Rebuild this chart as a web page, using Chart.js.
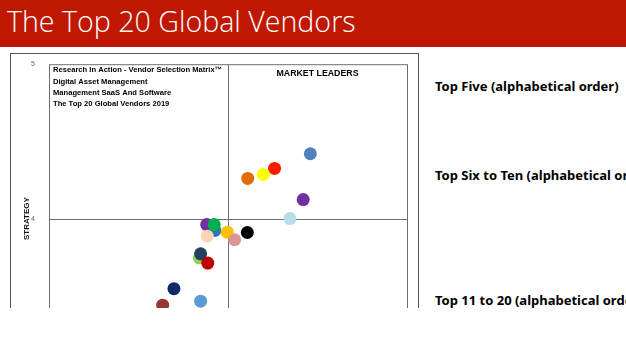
<!DOCTYPE html>
<html>
<head>
<meta charset="utf-8">
<script src="https://cdn.jsdelivr.net/npm/chart.js@4.4.1/dist/chart.umd.min.js"></script>
<style>
  html, body { margin: 0; padding: 0; background: #fff; }
  body { width: 626px; height: 351px; overflow: hidden; position: relative; font-family: "Open Sans", "Noto Sans", sans-serif; }
  #banner { position: absolute; left: 0; top: 0; width: 626px; height: 47px; background: #c01800; }
  #title { position: absolute; left: 7px; top: 2px; color: #fff; font-size: 28.6px; font-weight: 300; line-height: 38px; white-space: nowrap; }
  #box { position: absolute; left: 10px; top: 53px; width: 407px; height: 254px; border: 1px solid #555; border-bottom: none; overflow: hidden; }
  .side { position: absolute; left: 435px; font-family: "Noto Sans", sans-serif; font-weight: 700; font-size: 13px; color: #000; white-space: nowrap; line-height: 16px; }
</style>
</head>
<body>
<div id="banner"><div id="title">The Top 20 Global Vendors</div></div>
<div id="box"><canvas id="matrix" width="407" height="340"></canvas></div>
<div class="side" style="top:78px">Top Five (alphabetical order)</div>
<div class="side" style="top:167px">Top Six to Ten (alphabetical order)</div>
<div class="side" style="top:292px">Top 11 to 20 (alphabetical order)</div>
<script>
// execution (x) / strategy (y) scores
const vendorX = [4.46, 4.26, 4.197, 4.11, 4.42, 4.346, 4.108, 3.881, 3.927, 3.923, 3.884, 3.996, 4.037, 3.84, 3.847, 3.887, 3.698, 3.847, 3.635];
const vendorY = [4.42, 4.325, 4.286, 4.26, 4.123, 4.0, 3.91, 3.961, 3.923, 3.961, 3.886, 3.912, 3.863, 3.746, 3.772, 3.712, 3.546, 3.465, 3.439];
const vendorColors = ['#4f81bd', '#ff1a00', '#ffff00', '#e36c09', '#7030a0', '#b7dee8', '#000000', '#7030a0', '#2e75b6', '#00b050',
                      '#fbd4b4', '#ffc000', '#da9694', '#92d050', '#243f60', '#c00000', '#0f2a6b', '#5b9bd5', '#953735'];
const yTicks = [3, 4, 5];
const boxLines = [
    'Research In Action - Vendor Selection Matrix\u2122',
    'Digital Asset Management',
    'Management SaaS And Software',
    'The Top 20 Global Vendors 2019'
];
const leadersLabel = 'MARKET LEADERS';

// frame + quadrant cross + captions
const matrixDecor = {
    id: 'matrixDecor',
    beforeDatasetsDraw(chart) {
        const { ctx, chartArea: a, scales } = chart;
        const cx = scales.x.getPixelForValue(4);
        const cy = scales.y.getPixelForValue(4);
        ctx.save();
        ctx.strokeStyle = '#6e6e6e';
        ctx.lineWidth = 1;
        ctx.strokeRect(a.left + 0.5, a.top + 0.5, a.right - a.left, a.bottom - a.top);
        ctx.beginPath();
        ctx.moveTo(Math.round(cx) + 0.5, a.top);
        ctx.lineTo(Math.round(cx) + 0.5, a.bottom);
        ctx.moveTo(a.left, Math.round(cy) + 0.5);
        ctx.lineTo(a.right, Math.round(cy) + 0.5);
        ctx.stroke();

        ctx.fillStyle = '#000';
        ctx.font = 'bold 7.6px "Liberation Sans", sans-serif';
        ctx.textBaseline = 'middle';
        ctx.textAlign = 'left';
        boxLines.forEach((t, i) => ctx.fillText(t, a.left + 4, a.top + 6 + i * 11.3));

        ctx.font = 'bold 8.8px "Liberation Sans", sans-serif';
        ctx.textAlign = 'center';
        ctx.fillText(leadersLabel, (cx + a.right) / 2, a.top + 9);
        ctx.restore();
    }
};

new Chart(document.getElementById('matrix'), {
    type: 'scatter',
    data: {
        datasets: [{
            data: vendorX.map((x, i) => ({ x: x, y: vendorY[i] })),
            pointBackgroundColor: vendorColors,
            pointBorderWidth: 0,
            pointRadius: 6.5,
            pointHoverRadius: 6.5
        }]
    },
    options: {
        responsive: false,
        animation: false,
        events: [],
        layout: { padding: { top: 9, right: 11, bottom: 21, left: 0 } },
        plugins: { legend: { display: false }, tooltip: { enabled: false } },
        scales: {
            x: { type: 'linear', min: 3, max: 5, display: false },
            y: {
                type: 'linear', min: 3, max: 5,
                afterBuildTicks: s => { s.ticks = yTicks.map(v => ({ value: v })); },
                afterFit: s => { s.width = 38; },
                grid: { display: false },
                border: { display: false },
                ticks: { color: '#666', font: { size: 7, family: 'Liberation Sans' }, padding: 6 },
                title: {
                    display: true, text: 'STRATEGY', color: '#111',
                    font: { size: 8, weight: 'bold', family: 'Liberation Sans' },
                    padding: { top: 11, bottom: 0 }
                }
            }
        }
    },
    plugins: [matrixDecor]
});
</script>
</body>
</html>
